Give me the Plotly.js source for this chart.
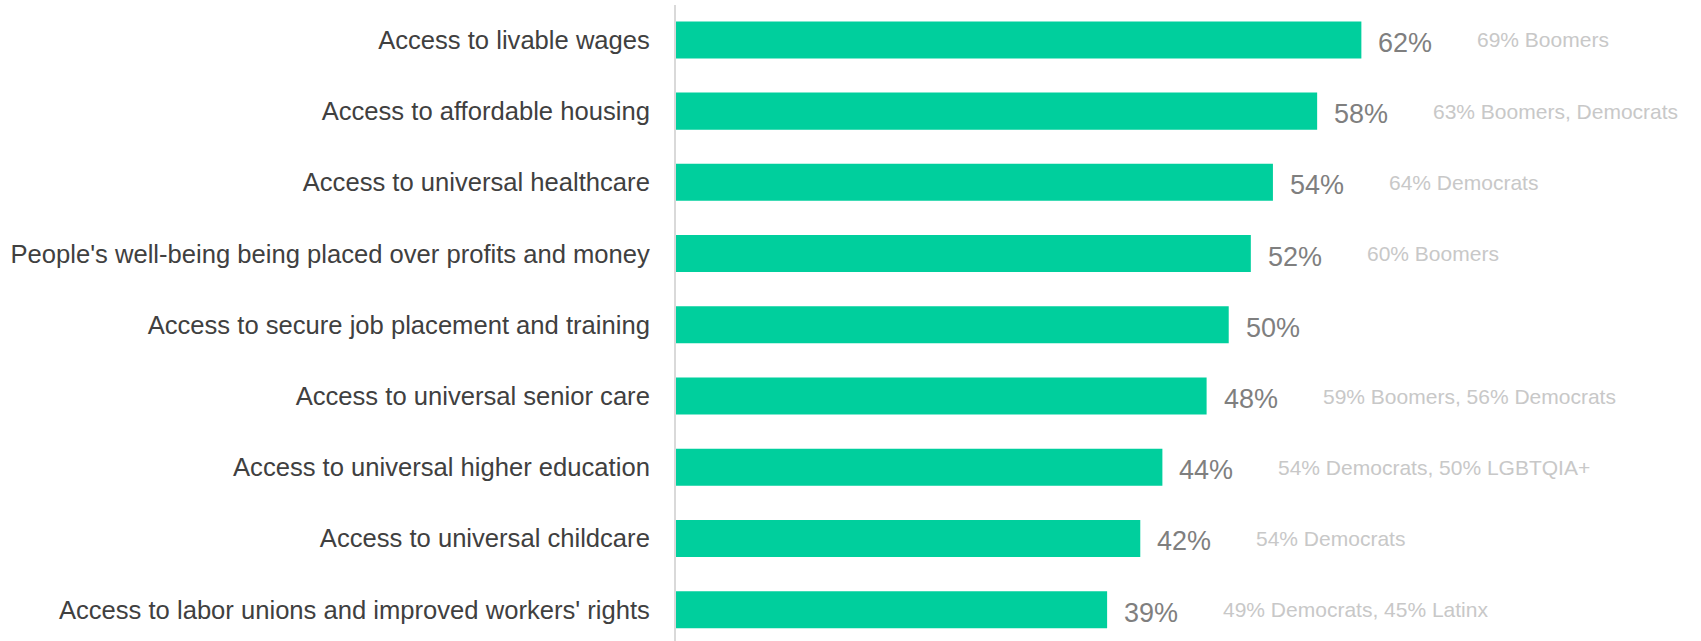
<!DOCTYPE html>
<html>
<head>
<meta charset="utf-8">
<script src="https://cdn.plot.ly/plotly-3.0.1.min.js"></script>
<style>
  html, body { margin: 0; padding: 0; background: #fff; }
  #chart { width: 1701px; height: 641px; }
</style>
</head>
<body>
<div id="chart"></div>
<script>
// Survey items, top to bottom
const categories = [
    "Access to livable wages",
    "Access to affordable housing",
    "Access to universal healthcare",
    "People's well-being being placed over profits and money",
    "Access to secure job placement and training",
    "Access to universal senior care",
    "Access to universal higher education",
    "Access to universal childcare",
    "Access to labor unions and improved workers' rights"
];
const values = [62, 58, 54, 52, 50, 48, 44, 42, 39];
// Subgroup callouts shown to the right of each bar
const notes = [
    "69% Boomers",
    "63% Boomers, Democrats",
    "64% Democrats",
    "60% Boomers",
    "",
    "59% Boomers, 56% Democrats",
    "54% Democrats, 50% LGBTQIA+",
    "54% Democrats",
    "49% Democrats, 45% Latinx"
];

const barColor = '#00cf9d';
const fontFamily = '"Liberation Sans", Arial, sans-serif';

let trace = {
    type: 'bar',
    orientation: 'h',
    x: values,
    y: categories,
    marker: { color: barColor },
    hoverinfo: 'skip'
};

// Value labels and callouts as annotations anchored on bar ends
let annotations = [];
values.forEach((v, i) => {
    annotations.push({
        x: v, y: categories[i], xref: 'x', yref: 'y',
        text: v + '%', showarrow: false,
        xanchor: 'left', xshift: 15, yshift: -3,
        font: { family: fontFamily, size: 27, color: '#7f7f7f' }
    });
    if (notes[i]) annotations.push({
        x: v, y: categories[i], xref: 'x', yref: 'y',
        text: notes[i], showarrow: false,
        xanchor: 'left', xshift: 114, yshift: 0,
        font: { family: fontFamily, size: 21, color: '#c8c8c8' }
    });
});

let layout = {
    width: 1701,
    height: 641,
    margin: { l: 676, r: 8, t: 5, b: 0 },
    paper_bgcolor: '#ffffff',
    plot_bgcolor: '#ffffff',
    bargap: 0.48,
    showlegend: false,
    xaxis: {
        range: [0, 92],
        showgrid: false, zeroline: false, showline: false,
        showticklabels: false, ticks: ''
    },
    yaxis: {
        type: 'category',
        categoryarray: categories,
        range: [8.44, -0.49],
        showgrid: false, zeroline: false,
        showline: true, linecolor: '#d9d9d9', linewidth: 2,
        ticks: '', ticklabelstandoff: 19,
        tickfont: { family: fontFamily, size: 25.6, color: '#404040' },
        automargin: false
    },
    annotations: annotations
};

Plotly.newPlot('chart', [trace], layout, { displayModeBar: false, staticPlot: true });
</script>
</body>
</html>
